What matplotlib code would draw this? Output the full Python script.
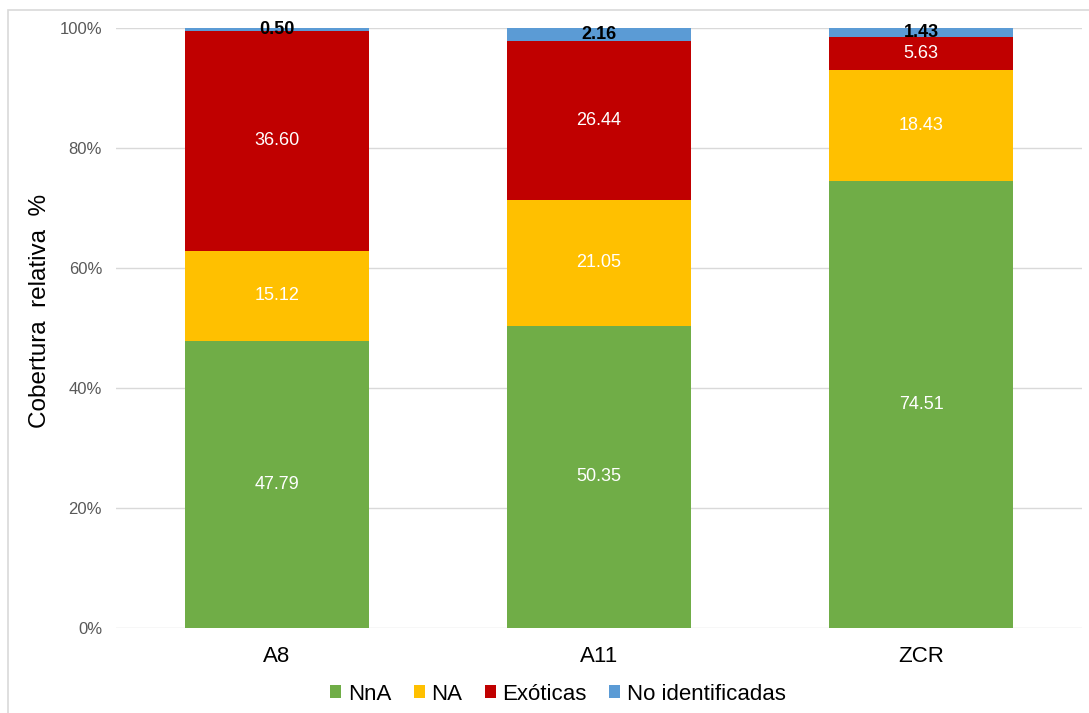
import numpy as np
import matplotlib.pyplot as plt
from matplotlib.patches import Rectangle
from matplotlib.ticker import PercentFormatter

plt.rcParams['font.family'] = ['Liberation Sans', 'DejaVu Sans']

sitios = ['A8', 'A11', 'ZCR']
nna = [47.79, 50.35, 74.51]
na = [15.12, 21.05, 18.43]
exoticas = [36.60, 26.44, 5.63]
no_ident = [0.50, 2.16, 1.43]

series = [
    ('NnA', nna, '#70ad47', 'white', 'normal'),
    ('NA', na, '#ffc000', 'white', 'normal'),
    ('Exóticas', exoticas, '#c00000', 'white', 'normal'),
    ('No identificadas', no_ident, '#5b9bd5', 'black', 'bold'),
]

fig = plt.figure(figsize=(10.89, 7.13), dpi=100)
ax = fig.add_axes([116/1089, 85/713, 966/1089, 600/713])

x = np.arange(len(sitios))
bottom = np.zeros(len(sitios))
for nombre, vals, color, tcolor, tweight in series:
    vals = np.array(vals)
    ax.bar(x, vals, 0.57, bottom=bottom, color=color, label=nombre, zorder=2)
    for xi, b, v in zip(x, bottom, vals):
        ax.text(xi, b + v / 2, f'{v:.2f}', ha='center', va='center',
                color=tcolor, fontsize=13, fontweight=tweight, zorder=3)
    bottom += vals

ax.set_xlim(-0.5, 2.5)
ax.set_ylim(0, 100)
ax.set_yticks(np.arange(0, 101, 20))
ax.yaxis.set_major_formatter(PercentFormatter(decimals=0))
ax.grid(axis='y', color='#d9d9d9', lw=1, zorder=0)
for s in ax.spines.values():
    s.set_visible(False)
ax.tick_params(axis='both', length=0, colors='#595959')
ax.tick_params(axis='y', labelsize=12, pad=10)
ax.tick_params(axis='x', labelsize=16, pad=13, labelcolor='black')
ax.set_xticks(x)
ax.set_xticklabels(sitios)
ax.set_ylabel('Cobertura  relativa  %', fontsize=17.5, va='center')
ax.yaxis.set_label_coords(-0.0787, 0.528)

ax.legend(loc='center', bbox_to_anchor=(0.4576, -0.11), ncol=4, frameon=False,
          fontsize=16, handlelength=0.5, handleheight=0.5,
          handletextpad=0.3, columnspacing=1.0)

fig.patches.append(Rectangle((8/1089, -0.1), 1.2, (703/713) + 0.1,
                             transform=fig.transFigure, fill=False,
                             edgecolor='#d9d9d9', lw=1.2))

fig.savefig('out.png', dpi=100)
